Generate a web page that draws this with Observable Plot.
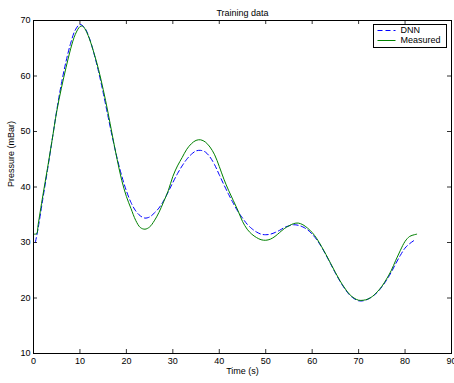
<!DOCTYPE html>
<html>
<head>
<meta charset="utf-8">
<script src="https://cdn.jsdelivr.net/npm/d3@7"></script>
<script src="https://cdn.jsdelivr.net/npm/@observablehq/plot@0.6"></script>
<style>
  html, body { margin: 0; padding: 0; background: white; overflow: hidden; }
  #chart { position: relative; width: 454px; height: 383px; }
</style>
</head>
<body>
<div id="chart"></div>
<script>
const title = "Training data";
const xLabel = "Time (s)";
const yLabel = "Pressure (mBar)";
const seriesNames = ["DNN", "Measured"];
const xTicks = [0, 10, 20, 30, 40, 50, 60, 70, 80, 90];
const yTicks = [10, 20, 30, 40, 50, 60, 70];

const timeMeasured = [0.2, 0.7, 1, 2, 3, 4, 5, 6, 7, 8, 9, 10, 10.5, 11, 12, 13, 14, 15, 16, 17, 18, 19, 20,
  21, 22, 23, 24, 25, 26, 27, 28, 29, 30, 31, 32, 33, 34, 35, 36, 37, 38, 39, 40,
  41, 42, 43, 44, 45, 46, 47, 48, 49, 50, 51, 52, 53, 54, 55, 56, 57, 58, 59, 60,
  61, 62, 63, 64, 65, 66, 67, 68, 69, 70, 71, 72, 73, 74, 75, 76, 77, 78, 79, 80, 81, 82, 82.5];
const pressureMeasured = [31.5, 31.6, 33.2, 38.4, 43.3, 48.4, 53.6, 57.8, 61.5, 64.9, 67.5, 68.9, 69.0, 68.6, 66.8, 64.2, 61.2, 57.6, 53.6, 49.2, 45.0, 41.2, 38.3,
  36.1, 34.0, 32.7, 32.4, 32.8, 33.9, 35.4, 37.3, 39.3, 41.9, 43.8, 45.3, 46.8, 47.8, 48.4, 48.5, 48.1, 47.2, 45.8, 43.7,
  41.4, 39.4, 37.6, 35.8, 33.8, 32.4, 31.5, 30.9, 30.5, 30.4, 30.6, 31.1, 31.8, 32.5, 33.0, 33.4, 33.5, 33.2, 32.6, 31.8,
  30.7, 29.3, 27.8, 26.2, 24.6, 23.1, 21.8, 20.7, 20.0, 19.6, 19.6, 19.8, 20.3, 21.1, 22.1, 23.4, 24.9, 26.8, 28.6, 30.2, 31.1, 31.4, 31.5];

const timeDnn = [0.4, 1, 2, 3, 4, 5, 6, 7, 8, 9, 10, 11, 12, 13, 14, 15, 16, 17, 18, 19, 20,
  21, 22, 23, 24, 25, 26, 27, 28, 29, 30, 31, 32, 33, 34, 35, 36, 37, 38, 39, 40,
  41, 42, 43, 44, 45, 46, 47, 48, 49, 50, 51, 52, 53, 54, 55, 56, 57, 58, 59, 60,
  61, 62, 63, 64, 65, 66, 67, 68, 69, 70, 71, 72, 73, 74, 75, 76, 77, 78, 79, 80, 81, 82];
const pressureDnn = [30.0, 32.6, 37.8, 43.0, 48.4, 53.8, 58.6, 62.6, 65.9, 68.3, 69.3, 68.7, 66.9, 64.1, 60.8, 57.0, 52.9, 48.9, 45.2, 42.0, 39.3,
  37.2, 35.7, 34.8, 34.4, 34.6, 35.3, 36.2, 37.5, 39.1, 40.8, 42.4, 43.8, 45.0, 45.9, 46.5, 46.6, 46.3, 45.4, 44.0, 42.2,
  40.4, 38.7, 37.1, 35.6, 34.4, 33.3, 32.5, 31.9, 31.5, 31.4, 31.5, 31.8, 32.2, 32.7, 33.0, 33.2, 33.1, 32.8, 32.3, 31.5,
  30.5, 29.2, 27.7, 26.1, 24.5, 23.0, 21.7, 20.6, 19.9, 19.5, 19.5, 19.8, 20.3, 21.0, 22.0, 23.2, 24.6, 26.2, 27.7, 29.0, 29.8, 30.4];

const measured = timeMeasured.map((t, i) => ({t, p: pressureMeasured[i]}));
const dnn = timeDnn.map((t, i) => ({t, p: pressureDnn[i]}));

const W = 454, H = 383;
const mL = 33, mR = 3, mT = 20, mB = 30;
const plotW = W - mL - mR, plotH = H - mT - mB;
const tickLen = 4;
const font = "Arial, 'Liberation Sans', Helvetica, sans-serif";
const blue = "#0000ff", green = "#008000";

const chart = Plot.plot({
  width: W,
  height: H,
  marginLeft: mL, marginRight: mR, marginTop: mT, marginBottom: mB,
  style: {fontFamily: font, fontSize: "9px", background: "white", color: "black"},
  x: {domain: [0, 90]},
  y: {domain: [10, 70]},
  marks: [
    Plot.line(dnn, {x: "t", y: "p", stroke: blue, strokeWidth: 1, strokeDasharray: "5,3", curve: "catmull-rom"}),
    Plot.line(measured, {x: "t", y: "p", stroke: green, strokeWidth: 1, curve: "catmull-rom"}),
    Plot.tickX(xTicks, {x: d => d, insetTop: plotH - tickLen, stroke: "black", strokeWidth: 0.8}),
    Plot.tickX(xTicks, {x: d => d, insetBottom: plotH - tickLen, stroke: "black", strokeWidth: 0.8}),
    Plot.tickY(yTicks, {y: d => d, insetRight: plotW - tickLen, stroke: "black", strokeWidth: 0.8}),
    Plot.tickY(yTicks, {y: d => d, insetLeft: plotW - tickLen, stroke: "black", strokeWidth: 0.8}),
    Plot.frame({stroke: "black", strokeWidth: 1}),
    Plot.axisX({ticks: xTicks, tickSize: 0, tickPadding: 4, label: null, fontSize: 9}),
    Plot.axisY({ticks: yTicks, tickSize: 0, tickPadding: 3, label: null, fontSize: 9}),
    Plot.text([title], {frameAnchor: "top", dy: -11, fontSize: 9, fill: "black"}),
    Plot.text([xLabel], {frameAnchor: "bottom", dy: 20, fontSize: 9, fill: "black"}),
    Plot.text([yLabel], {frameAnchor: "left", dx: -22, rotate: -90, fontSize: 9, fill: "black"})
  ]
});

document.getElementById("chart").appendChild(chart);

// Legend box (top right inside the axes)
const svg = d3.select(chart);
const lg = svg.append("g").attr("font-family", font).attr("font-size", 9).attr("text-anchor", "start");
const lx = 373.5, ly = 24.5, lw = 73, lh = 23;
lg.append("rect").attr("x", lx).attr("y", ly).attr("width", lw).attr("height", lh)
  .attr("fill", "white").attr("stroke", "black").attr("stroke-width", 1);
const legendItems = [
  {name: seriesNames[0], color: blue, dash: "5,3"},
  {name: seriesNames[1], color: green, dash: null}
];
legendItems.forEach((d, i) => {
  const y = ly + 6 + i * 10;
  lg.append("line").attr("x1", lx + 4).attr("x2", lx + 22).attr("y1", y).attr("y2", y)
    .attr("stroke", d.color).attr("stroke-width", 1).attr("stroke-dasharray", d.dash);
  lg.append("text").attr("x", lx + 27).attr("y", y).attr("dy", "0.32em")
    .attr("text-anchor", "start").attr("fill", "black").text(d.name);
});
</script>
</body>
</html>
